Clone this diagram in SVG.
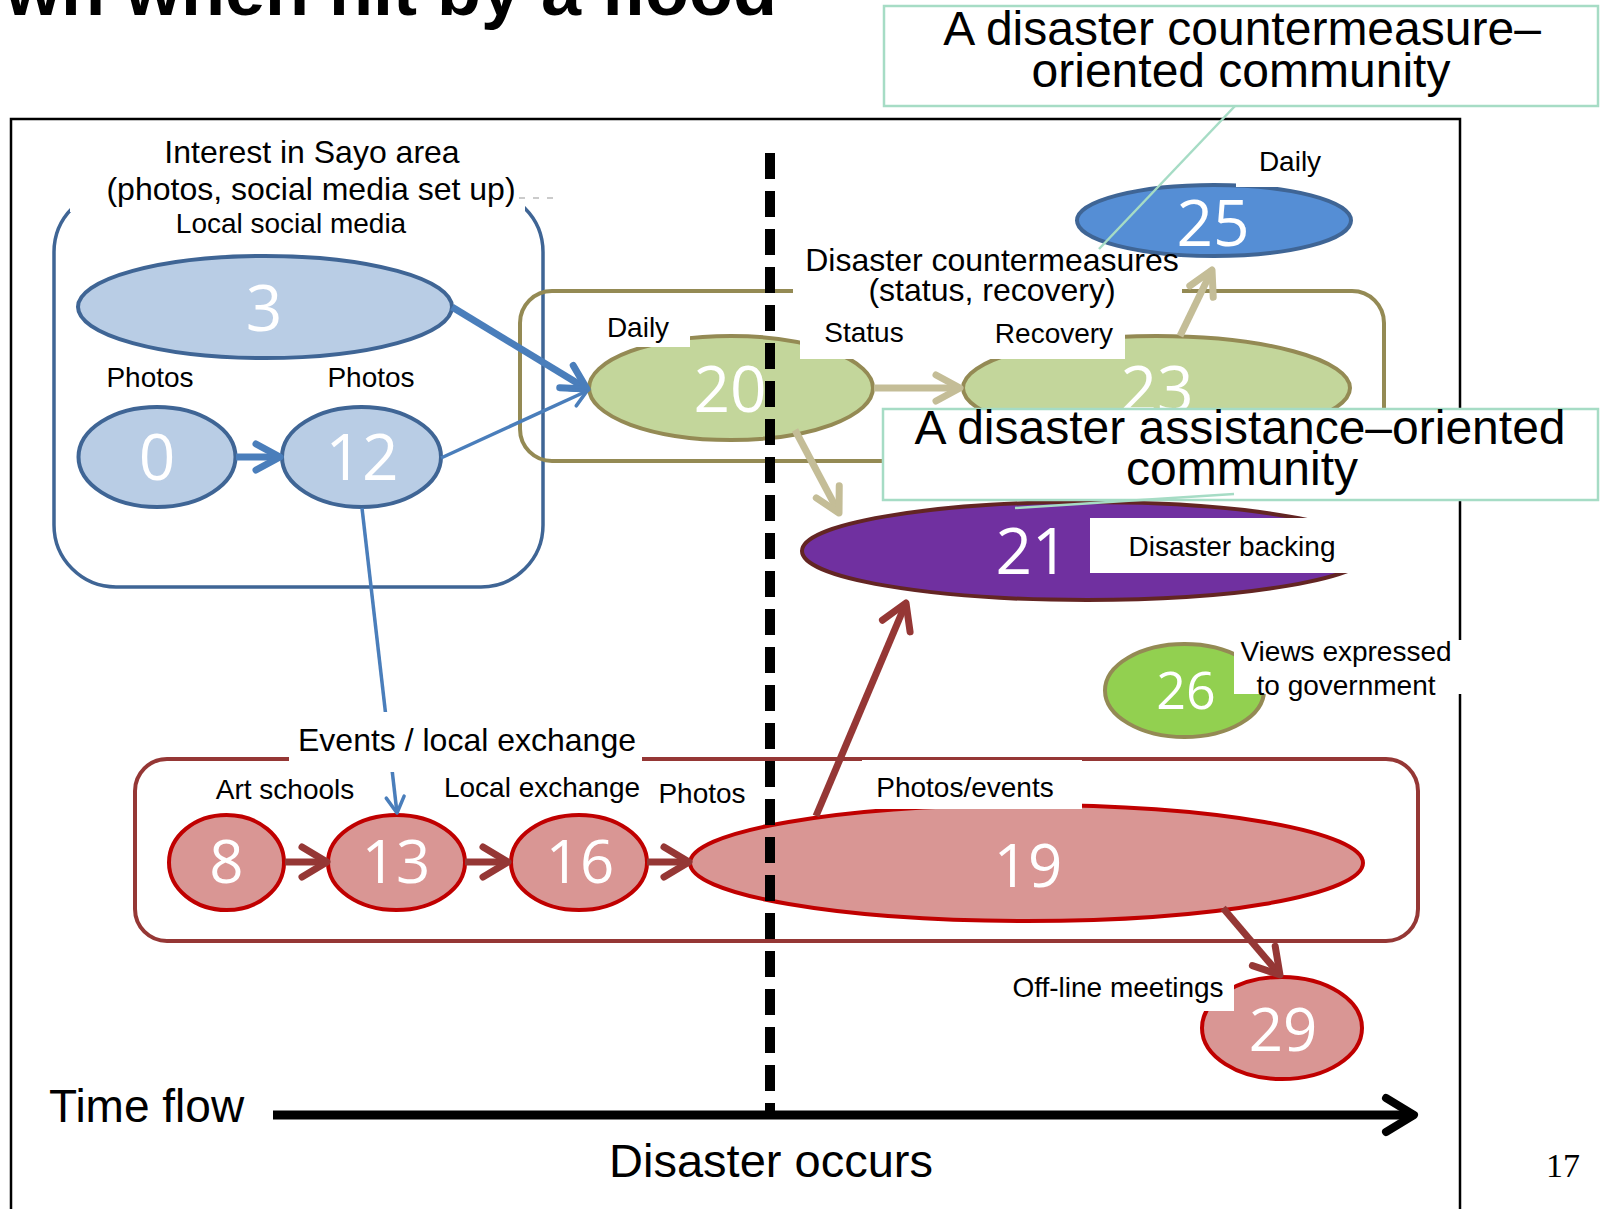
<svg xmlns="http://www.w3.org/2000/svg" width="1600" height="1209" viewBox="0 0 1600 1209">
<defs>
<style>
.t{font-family:"Liberation Sans",Arial,sans-serif;fill:#000;text-anchor:middle;font-size:28px}
.t32{font-size:32px}
.t48{font-size:48px}
.num{font-family:"Open Sans","Noto Sans",sans-serif;fill:#fff;text-anchor:middle;font-size:64px}
.n60{font-size:60px}
.n50{font-size:52px}
.bg{fill:#fff;stroke:none}
.box{fill:#fff;stroke:#a6dcc5;stroke-width:2.5}
.callout{stroke:#a6dcc5;stroke-width:2.5;fill:none}
.blueN{fill:#b9cde5;stroke:#3f6595;stroke-width:4}
.greenN{fill:#c3d69b;stroke:#948a54;stroke-width:4}
.redN{fill:#d99694;stroke:#c00000;stroke-width:4}
.c{fill:none;stroke-linecap:butt}
.cb{stroke:#4a7ebb;stroke-width:7}
.cbt{stroke:#4a7ebb;stroke-width:3.5}
.ct{stroke:#c4bd97;stroke-width:7}
.cr{stroke:#953735;stroke-width:7}
</style>
<marker id="mBlue" markerUnits="userSpaceOnUse" viewBox="-6 -22 40 44" markerWidth="40" markerHeight="44" refX="24" refY="0" orient="auto"><path d="M0,-13 L24,0 L0,13" fill="none" stroke="#4a7ebb" stroke-width="7" stroke-linecap="round" stroke-linejoin="round"/></marker>
<marker id="mBlueThin" markerUnits="userSpaceOnUse" viewBox="-6 -22 40 44" markerWidth="40" markerHeight="44" refX="16" refY="0" orient="auto"><path d="M0,-9 L16,0 L0,9" fill="none" stroke="#4a7ebb" stroke-width="3.5" stroke-linecap="round" stroke-linejoin="round"/></marker>
<marker id="mTan" markerUnits="userSpaceOnUse" viewBox="-6 -22 40 44" markerWidth="40" markerHeight="44" refX="24" refY="0" orient="auto"><path d="M0,-13 L24,0 L0,13" fill="none" stroke="#c4bd97" stroke-width="7" stroke-linecap="round" stroke-linejoin="round"/></marker>
<marker id="mRed" markerUnits="userSpaceOnUse" viewBox="-6 -22 40 44" markerWidth="40" markerHeight="44" refX="25" refY="0" orient="auto"><path d="M0,-15 L25,0 L0,15" fill="none" stroke="#953735" stroke-width="7" stroke-linecap="round" stroke-linejoin="round"/></marker>
<marker id="mBlack" markerUnits="userSpaceOnUse" viewBox="-6 -24 42 48" markerWidth="42" markerHeight="48" refX="28" refY="0" orient="auto"><path d="M0,-17 L28,0 L0,17" fill="none" stroke="#000" stroke-width="8" stroke-linecap="round" stroke-linejoin="round"/></marker>
</defs>

<rect x="0" y="0" width="1600" height="1209" fill="#fff"/>

<text x="777" y="15" font-family="Liberation Sans, Arial, sans-serif" font-weight="bold" font-size="72" text-anchor="end">wn when hit by a flood</text>

<rect id="frame" x="11" y="119" width="1449" height="1100" fill="none" stroke="#000" stroke-width="2.5"/>

<g id="groups">
  <rect id="group-social" x="54" y="190" width="489" height="397" rx="62" fill="none" stroke="#3f6595" stroke-width="3.5"/>
  <rect id="group-daily" x="520" y="291" width="864" height="170" rx="32" fill="none" stroke="#948a54" stroke-width="4"/>
  <rect id="group-events" x="135" y="759" width="1283" height="182" rx="32" fill="none" stroke="#953735" stroke-width="4"/>
</g>

<g id="nodes">
  <g id="node-3"><ellipse class="blueN" cx="265" cy="307" rx="187" ry="51"/><text class="num" x="264" y="331">3</text></g>
  <g id="node-0"><ellipse class="blueN" cx="157" cy="457" rx="78.5" ry="50"/><text class="num" x="157" y="480">0</text></g>
  <g id="node-12"><ellipse class="blueN" cx="361.5" cy="457" rx="79.5" ry="50"/><text class="num" x="362" y="480">12</text></g>
  <g id="node-20"><ellipse class="greenN" cx="731" cy="388" rx="142" ry="52"/><text class="num" x="730" y="412">20</text></g>
  <g id="node-23"><ellipse class="greenN" cx="1156.5" cy="388" rx="193.5" ry="52"/><text class="num" x="1157" y="412">23</text></g>
  <g id="node-25"><ellipse cx="1214" cy="220.5" rx="137" ry="35.5" fill="#558ed5" stroke="#3f6595" stroke-width="4"/><text class="num" x="1213" y="246">25</text></g>
  <g id="node-21"><ellipse cx="1087" cy="551" rx="285" ry="49" fill="#7030a0" stroke="#632523" stroke-width="4"/><text class="num" x="1032" y="574">21</text></g>
  <g id="node-26"><ellipse cx="1184.5" cy="690.5" rx="79.5" ry="46.5" fill="#92d050" stroke="#948a54" stroke-width="4"/><text class="num n50" x="1186" y="709">26</text></g>
  <g id="node-8"><ellipse class="redN" cx="226.5" cy="862.5" rx="57.5" ry="47.5"/><text class="num n60" x="226.5" y="883">8</text></g>
  <g id="node-13"><ellipse class="redN" cx="396.5" cy="862.5" rx="68.5" ry="47.5"/><text class="num n60" x="396" y="883">13</text></g>
  <g id="node-16"><ellipse class="redN" cx="579" cy="862.5" rx="68" ry="47.5"/><text class="num n60" x="580" y="883">16</text></g>
  <g id="node-19"><ellipse class="redN" cx="1026.5" cy="863" rx="336.5" ry="58"/><text class="num n60" x="1028" y="887">19</text></g>
  <g id="node-29"><ellipse class="redN" cx="1282" cy="1028" rx="80" ry="51"/><text class="num n60" x="1283" y="1051">29</text></g>
</g>

<g id="connectors">
  <path class="c cb" d="M236,457 L280,457" marker-end="url(#mBlue)"/>
  <path class="c cb" d="M452,307 L587,389" marker-end="url(#mBlue)"/>
  <path class="c cbt" d="M441,458 L587,391" marker-end="url(#mBlueThin)"/>
  <path class="c cbt" d="M362,508 L397,813" marker-end="url(#mBlueThin)"/>
  <path class="c ct" d="M874,388 L960,388" marker-end="url(#mTan)"/>
  <path class="c ct" d="M795,430 L839,513" marker-end="url(#mTan)"/>
  <path class="c ct" d="M1180,336 L1212,270" marker-end="url(#mTan)"/>
  <path class="c cr" d="M285,862 L327,862" marker-end="url(#mRed)"/>
  <path class="c cr" d="M465,862 L508,862" marker-end="url(#mRed)"/>
  <path class="c cr" d="M647,862 L689,862" marker-end="url(#mRed)"/>
  <path class="c cr" d="M816,816 L906,603" marker-end="url(#mRed)"/>
  <path class="c cr" d="M1223,908 L1280,975" marker-end="url(#mRed)"/>
</g>

<g id="labels">
  <g id="label-interest">
    <rect class="bg" x="70" y="128" width="455" height="84"/>
    <text class="t t32" x="312" y="163">Interest in Sayo area</text>
    <text class="t t32" x="311" y="200">(photos, social media set up)</text>
    <path d="M519,198 L556,198" stroke="#bbb" stroke-width="1.5" stroke-dasharray="6 8" fill="none"/>
  </g>
  <text class="t" x="291" y="233">Local social media</text>
  <text class="t" x="150" y="387">Photos</text>
  <text class="t" x="371" y="387">Photos</text>
  <g id="label-daily20"><rect class="bg" x="598" y="305" width="92" height="42"/><text class="t" x="638" y="337">Daily</text></g>
  <g id="label-status-recovery"><rect class="bg" x="800" y="312" width="325" height="47"/><text class="t" x="864" y="342">Status</text><text class="t" x="1054" y="343">Recovery</text></g>
  <g id="label-countermeasures"><rect class="bg" x="793" y="257" width="389" height="50"/><text class="t t32" x="992" y="271">Disaster countermeasures</text><text class="t t32" x="992" y="301">(status, recovery)</text></g>
  <g id="label-daily25"><rect class="bg" x="1236" y="146" width="94" height="41"/><text class="t" x="1290" y="171">Daily</text></g>
  <g id="label-backing"><rect class="bg" x="1090" y="518" width="310" height="55"/><text class="t" x="1232" y="556">Disaster backing</text></g>
  <g id="label-views"><rect class="bg" x="1234" y="640" width="228" height="54"/><text class="t" x="1346" y="661">Views expressed</text><text class="t" x="1346" y="695">to government</text></g>
  <g id="label-events"><rect class="bg" x="289" y="712" width="353" height="60"/><text class="t t32" x="467" y="751">Events / local exchange</text></g>
  <text class="t" x="285" y="799">Art schools</text>
  <text class="t" x="542" y="797">Local exchange</text>
  <text class="t" x="702" y="803">Photos</text>
  <g id="label-photos-events"><rect class="bg" x="862" y="760" width="220" height="49"/><text class="t" x="965" y="797">Photos/events</text></g>
  <g id="label-offline"><rect class="bg" x="1005" y="972" width="229" height="39"/><text class="t" x="1118" y="997">Off-line meetings</text></g>
  <g id="callout-countermeasure">
    <rect class="box" x="884" y="6" width="714" height="100"/>
    <text class="t t48" x="1242" y="45">A disaster countermeasure–</text>
    <text class="t t48" x="1241" y="87">oriented community</text>
  </g>
  <g id="callout-assistance">
    <rect class="box" x="883" y="409" width="715" height="91"/>
    <text class="t t48" x="1240" y="444">A disaster assistance–oriented</text>
    <text class="t t48" x="1242" y="485">community</text>
  </g>
</g>

<path id="disaster-line" d="M770,153 L770,1112" stroke="#000" stroke-width="10" stroke-dasharray="26 12" fill="none"/>

<g id="callout-lines">
  <path class="callout" d="M1235,106 L1099,249"/>
  <path class="callout" d="M1234,494 L1015,508"/>
</g>

<g id="time-axis">
  <path d="M273,1115 L1414,1115" stroke="#000" stroke-width="9" fill="none" marker-end="url(#mBlack)"/>
  <text class="t" x="49" y="1122" style="text-anchor:start;font-size:46px">Time flow</text>
  <text class="t" x="771" y="1177" style="font-size:47px">Disaster occurs</text>
  <text x="1546" y="1177" font-family="Liberation Serif, Times New Roman, serif" font-size="34">17</text>
</g>
</svg>
